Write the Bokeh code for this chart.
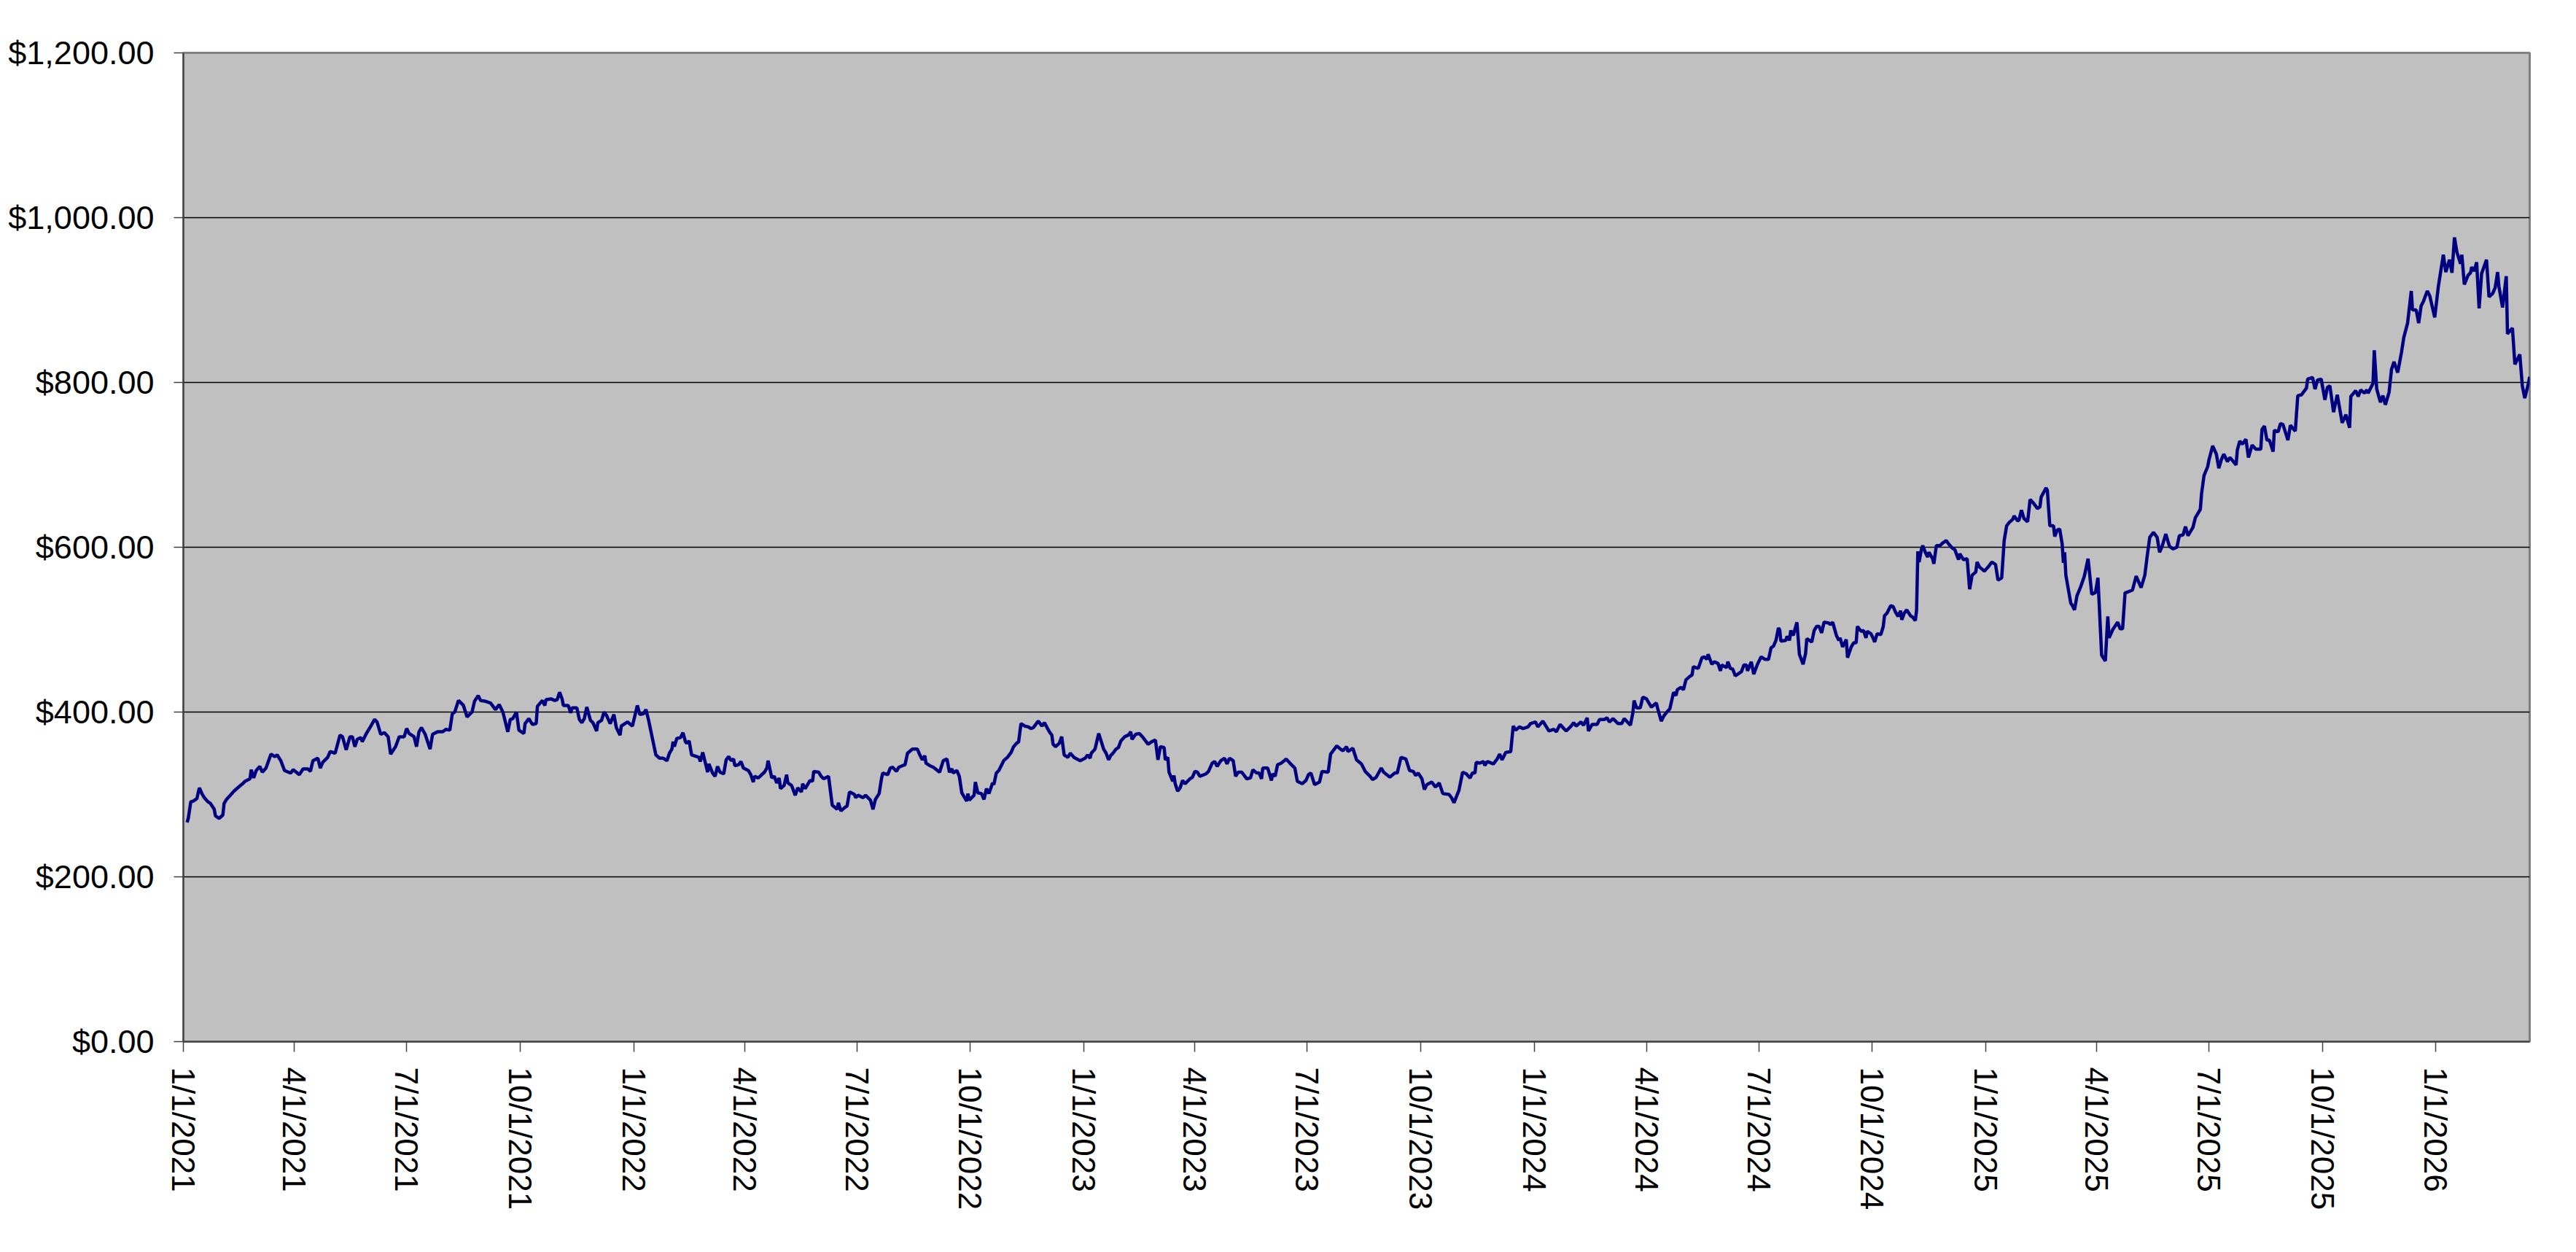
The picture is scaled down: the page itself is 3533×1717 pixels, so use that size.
import pandas as pd
from bokeh.plotting import figure
from bokeh.models import Range1d, FixedTicker, NumeralTickFormatter, ColumnDataSource
from bokeh.embed import file_html
from bokeh.resources import INLINE

START_DATE = "2021-01-01"

# (days after START_DATE, value in $)
part1 = [(3,266),(4,271),(6,291),(8,292),(11,295),(12,302),(13,308),(15,301),(17,296),(20,291),(22,289),(25,282),(26,274),(29,271),(32,275),(33,289),(35,294),(38,299),(41,304),(44,308),(48,313),(50,316),(54,319),(55,330),(57,320),(59,329),(62,334),(64,327),(67,332),(71,349),(74,346),(76,348),(79,341),(82,329),(87,326),(89,330),(94,324),(97,331),(101,331),(103,328),(105,341),(109,344),(111,332),(113,339),(117,345),(119,352),(123,350),(127,372),(129,370),(132,354),(135,370),(137,370),(139,358),(141,367),(144,369),(145,364),(148,373),(152,383),(155,391),(157,388),(160,373),(163,375),(166,370),(168,349),(172,358),(175,370),(179,370),(181,380),(183,374),(187,370),(189,358),(191,376),(193,381),(196,373),(200,355),(202,373),(206,376),(210,376),(213,379),(216,378),(218,398),(220,400),(223,414),(227,408),(230,394),(234,400),(236,413),(239,420),(241,414),(245,413),(249,411),(253,403),(256,409),(259,400),(263,376),(265,391),(267,392),(270,400),(272,378),(276,374),(277,386),(280,392),(283,385),(286,386),(287,407),(291,414),(293,408),(294,415),(298,416)]

part2 = [(301,414),(303,415),(305,424),(307,416),(308,408),(312,408),(314,399),(315,405),(319,405),(321,391),(323,387),(325,392),(327,406),(330,390),(332,387),(335,377),(336,387),(339,390),(341,400),(343,396),(346,386),(349,397),(351,381),(354,372),(355,383),(360,388),(364,383),(368,408),(370,397),(373,398),(375,403),(377,391),(383,348),(386,344),(389,344),(392,341),(394,350),(396,355),(397,364),(398,358),(400,368),(403,369),(405,375),(407,364),(408,362),(410,365),(412,348),(414,347),(418,345),(419,340),(421,351),(422,345),(425,327),(426,337),(429,326),(431,322),(433,334),(435,327),(438,325),(440,342),(442,346),(444,341),(446,343),(447,335),(450,336),(452,340),(454,332),(458,329),(460,324),(462,315),(463,322),(466,320),(471,327),(473,332),(474,341),(477,320),(479,322),(481,314),(483,320),(484,307),(487,311),(489,324),(490,314),(493,311),(496,299),(498,308),(501,303),(502,313),(504,307),(508,317),(510,316),(511,328),(515,327),(517,322),(519,319),(523,322),(526,287),(530,282),(531,290),(533,280),(536,284),(538,286),(540,303),(544,300),(545,296),(547,299),(551,296),(553,299),(557,293),(559,282),(561,294),(564,301),(566,320),(567,326),(571,324),(573,332),(575,333),(578,328),(580,333),(583,335),(585,336),(587,350),(591,355),(595,355),(597,348),(599,342),(601,347),(602,338)]

part3 = [(605,335),(608,333),(613,327),(616,341),(619,343),(621,327),(623,331),(624,326),(627,329),(629,322),(631,302),(635,292),(636,301),(637,293),(641,299),(642,315),(644,302),(647,301),(649,294),(651,307),(653,301),(656,314),(657,312),(659,326),(661,329),(665,341),(668,345),(671,351),(673,358),(676,363),(677,363),(679,386),(682,383),(685,382),(687,380),(689,381),(693,389),(696,383),(698,387),(702,376),(704,372),(705,361),(707,358),(710,362),(712,370),(714,348),(717,345),(719,350),(722,345),(727,341),(731,344),(733,348),(735,344),(736,350),(739,355),(742,374),(746,355),(748,350),(750,342),(752,348),(753,349),(756,355),(758,357),(760,365),(763,370),(766,372),(768,376),(769,367),(772,373),(775,374),(778,369),(782,361),(785,364),(788,366),(790,342),(792,358),(795,357),(796,342),(798,345),(799,327),(802,316),(803,323),(804,313),(806,304),(808,308),(810,317),(812,313),(816,319),(818,321),(820,328),(822,327),(824,322),(829,325),(831,328),(834,338),(836,340),(838,334),(841,341),(844,344),(846,337),(848,344),(851,341),(853,322),(855,327),(858,327),(862,319),(865,320),(867,330),(870,326),(872,326),(874,319),(875,332),(879,332),(882,317),(883,325),(885,322),(887,336),(890,338),(894,343),(897,338),(901,332),(903,316),(907,313)]

part4 = [(910,317),(912,324),(914,326),(917,312),(921,315),(923,328),(928,327),(930,349),(932,353),(935,359),(938,355),(940,353),(943,358),(944,352),(948,356),(951,342),(955,337),(958,328),(962,322),(964,318),(967,321),(971,332),(973,327),(978,321),(982,326),(984,326),(987,345),(991,343),(994,329),(997,328),(999,323),(1001,326),(1004,319),(1006,306),(1008,312),(1012,315),(1015,309),(1018,314),(1021,301),(1026,300),(1028,296),(1030,290),(1034,305),(1037,327),(1040,325),(1043,320),(1045,326),(1047,326),(1048,339),(1051,338),(1054,340),(1055,335),(1057,340),(1062,337),(1065,343),(1067,349),(1069,342),(1072,351),(1076,352),(1078,383),(1080,378),(1083,382),(1086,380),(1090,382),(1092,386),(1096,388),(1098,382),(1102,389),(1107,377),(1111,379),(1113,376),(1116,385),(1119,380),(1121,377),(1125,383),(1127,387),(1129,383),(1133,388),(1135,384),(1138,393),(1139,377),(1142,385),(1146,385),(1148,391),(1152,391),(1154,393),(1156,388),(1159,392),(1163,386),(1166,386),(1168,392),(1173,384),(1175,399),(1176,414),(1178,405),(1181,405),(1183,418),(1186,416),(1188,411),(1190,406),(1194,411),(1195,405),(1198,389),(1200,395),(1202,399),(1205,404),(1208,424),(1210,420),(1211,427)]

part5 = [(1214,430),(1216,427),(1218,439),(1221,443),(1223,445),(1224,455),(1228,453),(1231,466),(1233,467),(1235,464),(1236,470),(1239,458),(1241,461),(1244,459),(1246,450),(1247,457),(1251,454),(1252,461),(1254,453),(1256,452),(1258,444),(1261,447),(1263,449),(1265,457),(1267,457),(1268,450),(1271,461),(1273,446),(1276,458),(1279,467),(1282,464),(1285,464),(1287,478),(1289,480),(1291,487),(1293,502),(1294,500),(1295,486),(1299,487),(1300,492),(1302,487),(1303,499),(1305,493),(1308,509),(1310,470),(1313,458),(1315,471),(1316,489),(1318,487),(1320,485),(1322,499),(1324,504),(1326,504),(1328,496),(1330,509),(1334,508),(1335,506),(1337,509),(1340,493),(1342,487),(1343,490),(1345,479),(1348,488),(1349,466),(1352,479),(1354,484),(1356,484),(1357,504),(1360,498),(1362,499),(1364,490),(1365,498),(1368,495),(1370,489),(1371,485),(1373,495),(1376,494),(1378,504),(1379,517),(1381,520),(1384,529),(1386,528),(1388,521),(1390,516),(1392,523),(1393,512),(1395,520),(1397,524),(1400,517),(1402,515),(1404,511),(1405,524),(1406,595),(1407,582),(1409,598),(1410,602),(1412,594),(1414,588),(1415,594),(1418,586),(1419,580),(1421,602),(1424,602),(1426,605),(1429,608),(1431,604),(1434,599),(1436,597),(1439,585),(1440,592),(1443,585),(1446,586),(1448,549),(1450,566),(1453,570),(1454,582),(1456,576),(1460,571),(1463,576),(1466,582),(1469,579),(1471,560),(1474,563),(1476,608),(1478,626),(1480,630),(1483,634),(1484,638),(1487,632),(1488,633),(1490,645),(1492,635),(1495,631),(1497,658),(1500,653),(1503,647),(1505,649),(1506,661),(1510,672),(1511,669),(1513,626),(1516,626),(1517,613)]

part6 = [(1519,621),(1521,622),(1523,604),(1524,581),(1525,594),(1526,566),(1530,532),(1531,530),(1533,524),(1535,541),(1538,552),(1541,565),(1544,586),(1547,543),(1550,545),(1552,563),(1555,469),(1558,462),(1560,516),(1561,490),(1564,500),(1568,509),(1570,501),(1572,501),(1574,545),(1575,545),(1580,548),(1583,565),(1587,551),(1590,566),(1592,590),(1594,612),(1597,618),(1600,612),(1602,594),(1604,601),(1607,616),(1610,601),(1613,598),(1616,600),(1618,614),(1621,615),(1623,625),(1625,614),(1629,624),(1631,636),(1635,646),(1636,665),(1638,687),(1641,698),(1642,706),(1645,723),(1648,713),(1650,696),(1652,706),(1654,713),(1657,704),(1659,709),(1664,700),(1665,718),(1667,729),(1669,725),(1672,731),(1674,709),(1677,724),(1680,719),(1684,719),(1685,743),(1687,747),(1689,730),(1691,730),(1694,716),(1695,742),(1698,740),(1700,750),(1702,749),(1706,730),(1708,748),(1712,741),(1713,763),(1714,784),(1717,785),(1721,793),(1722,804),(1726,806),(1728,792),(1730,803),(1733,804),(1736,779),(1738,794),(1740,796),(1743,764),(1746,785),(1750,751),(1753,761),(1756,745),(1757,783),(1761,790),(1763,783),(1765,791),(1768,787),(1770,791),(1771,787),(1775,799),(1776,839),(1778,792),(1781,776),(1783,784),(1785,773),(1788,788),(1790,816),(1792,825),(1795,812),(1798,836),(1800,855),(1803,872),(1806,911),(1807,888),(1810,888),(1812,872),(1814,893),(1816,899),(1819,911),(1821,905),(1825,879),(1828,917),(1832,955),(1834,934),(1837,949),(1839,933),(1841,976),(1843,958),(1846,944),(1847,955),(1849,919),(1852,930),(1854,933),(1855,940),(1857,935),(1859,946),(1861,890),(1863,932),(1867,949),(1869,904),(1872,908),(1874,915),(1876,934),(1877,917),(1880,891),(1883,929),(1884,859),(1888,866),(1890,822),(1894,834),(1896,796),(1898,781),(1901,799),(1902,807)]

tick_labels = ["1/1/2021", "4/1/2021", "7/1/2021", "10/1/2021",
               "1/1/2022", "4/1/2022", "7/1/2022", "10/1/2022",
               "1/1/2023", "4/1/2023", "7/1/2023", "10/1/2023",
               "1/1/2024", "4/1/2024", "7/1/2024", "10/1/2024",
               "1/1/2025", "4/1/2025", "7/1/2025", "10/1/2025",
               "1/1/2026"]
y_ticks = [0, 200, 400, 600, 800, 1000, 1200]

# ---------------------------------------------------------------
points = part1 + part2 + part3 + part4 + part5 + part6
start = pd.Timestamp(START_DATE)
dates = [start + pd.Timedelta(days=d) for d, _ in points]
values = [v for _, v in points]
src = ColumnDataSource(data=dict(date=dates, value=values))

epoch = pd.Timestamp("1970-01-01")
tick_dates = [pd.to_datetime(t, format="%m/%d/%Y") for t in tick_labels]
tick_ms = [int((t - epoch) / pd.Timedelta(milliseconds=1)) for t in tick_dates]

p = figure(width=3510, height=1695, x_axis_type="datetime",
           x_range=Range1d(start, dates[-1]), y_range=Range1d(0, 1200),
           output_backend="svg", toolbar_location=None,
           min_border_left=251, min_border_right=41,
           min_border_top=72, min_border_bottom=267)

p.background_fill_color = "#C0C0C0"
p.border_fill_color = "white"
p.outline_line_color = "#808080"
p.outline_line_width = 3

p.line(x="date", y="value", source=src, line_color="#000080", line_width=4.5)

p.xgrid.grid_line_color = None
p.ygrid.ticker = FixedTicker(ticks=y_ticks)
p.ygrid.grid_line_color = "#000000"
p.ygrid.grid_line_width = 1.3

xa = p.xaxis[0]
xa.ticker = FixedTicker(ticks=tick_ms)
xa.major_label_overrides = {ms: lab for ms, lab in zip(tick_ms, tick_labels)}
xa.major_label_orientation = "vertical"
xa.major_label_text_font_size = "44px"
xa.major_label_standoff = 21
xa.major_tick_out = 14

ya = p.yaxis[0]
ya.ticker = FixedTicker(ticks=y_ticks)
ya.formatter = NumeralTickFormatter(format="$0,0.00")
ya.major_label_text_font_size = "45px"
ya.major_label_standoff = 27
ya.major_tick_out = 13

for ax in (xa, ya):
    ax.axis_line_color = "#404040"
    ax.axis_line_width = 2
    ax.major_tick_line_color = "#404040"
    ax.major_tick_line_width = 1.5
    ax.major_tick_in = 0
    ax.minor_tick_line_color = None
    ax.major_label_text_font = "Liberation Sans"
    ax.major_label_text_color = "black"

open("out.html", "w").write(file_html(p, INLINE))
